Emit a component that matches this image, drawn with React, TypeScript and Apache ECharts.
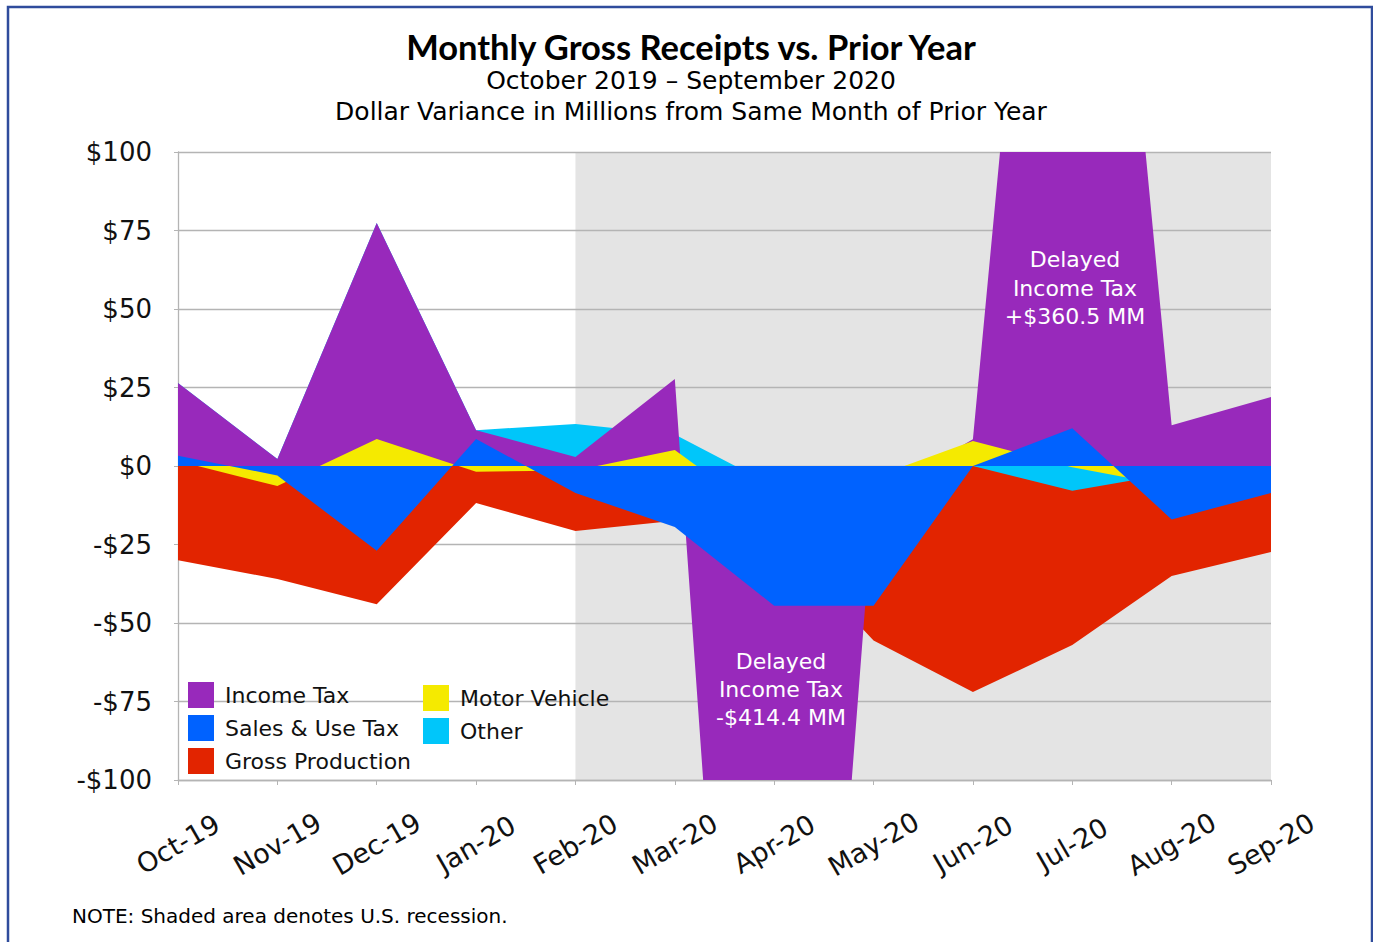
import React, { useEffect, useRef } from "react";
import * as echarts from "echarts";

// Categories (months)
const months = ["Oct-19", "Nov-19", "Dec-19", "Jan-20", "Feb-20", "Mar-20", "Apr-20", "May-20", "Jun-20", "Jul-20", "Aug-20", "Sep-20"];

// Edge of each coloured band as plotted ($ millions variance); each band is filled from $0
const salesUseTax = [3.3, -3.0, -27.0, 8.6, -8.6, -19.4, -44.5, -44.5, 0.0, 12.0, -17.0, -8.6];
const motorVehicle = [1.6, -6.4, 8.6, -1.8, -1.4, 5.1, -18.0, -3.6, 8.0, -0.4, -6.4, -5.0];
const incomeTax = [26.4, 2.2, 77.4, 11.4, 2.9, 27.7, -420.0, -10.0, 8.5, 344.0, 13.0, 22.0];
const other = [26.4, 2.2, 77.4, 11.4, 13.4, 10.0, -6.5, -10.0, 0.0, -7.9, -2.4, -3.0];
const grossProduction = [-30.0, -36.0, -44.0, -11.8, -20.7, -17.4, -22.0, -55.6, -72.0, -57.0, -35.0, -27.4];

// Recession shading span
const recessionStart = "Feb-20";
const recessionEnd = "Sep-20";

// Y axis ticks
const yMin = -100;
const yMax = 100;
const yStep = 25;

const FONT = "'DejaVu Sans', sans-serif";

export default function App() {
  const ref = useRef<HTMLDivElement>(null);

  useEffect(() => {
    if (!ref.current) return;
    const chart = echarts.init(ref.current, undefined, { renderer: "svg" });

    const band = (name: string, data: number[], color: string, z: number) => ({
      name,
      type: "line",
      data,
      z,
      symbol: "none",
      showSymbol: false,
      silent: true,
      clip: true,
      lineStyle: { width: 0, opacity: 0 },
      itemStyle: { color },
      areaStyle: { color, opacity: 1, origin: "auto" },
    });

    const legendCommon = {
      orient: "vertical",
      icon: "rect",
      itemWidth: 26,
      itemHeight: 26,
      itemGap: 7,
      padding: 0,
      selectedMode: false,
      textStyle: { fontSize: 22, color: "#111", fontFamily: FONT, padding: [0, 0, 0, 6] },
    };

    const txt = (text: string, x: number, y: number, size: number, opts: any = {}) => ({
      type: "text",
      x,
      y,
      z: 100,
      silent: true,
      style: {
        text,
        fill: opts.fill || "#000",
        font: `${opts.weight || "normal"} ${size}px ${opts.family || FONT}`,
        textAlign: opts.align || "center",
        align: opts.align || "center",
        textVerticalAlign: "middle",
        verticalAlign: "middle",
      },
    });

    chart.setOption({
      animation: false,
      backgroundColor: "#ffffff",
      grid: { left: 178, right: 102, top: 152, bottom: 162, containLabel: false },
      xAxis: {
        type: "category",
        data: months,
        boundaryGap: false,
        z: 2,
        axisLine: { onZero: false, lineStyle: { color: "#b4b4b4", width: 1.3 } },
        axisTick: { show: true, length: 5, lineStyle: { color: "#b4b4b4" } },
        splitLine: { show: false },
        axisLabel: {
          interval: 0,
          rotate: 30,
          align: "center",
          verticalAlign: "middle",
          margin: 64,
          fontSize: 27,
          color: "#111",
          fontFamily: FONT,
        },
      },
      yAxis: {
        type: "value",
        min: yMin,
        max: yMax,
        interval: yStep,
        z: 2,
        axisLine: { show: true, lineStyle: { color: "#b4b4b4", width: 1.3 } },
        axisTick: { show: true, length: 4, lineStyle: { color: "#b4b4b4" } },
        splitLine: { show: true, lineStyle: { color: "#b4b4b4", width: 1.3 } },
        axisLabel: {
          fontSize: 26,
          color: "#111",
          fontFamily: FONT,
          margin: 26,
          formatter: (v: number) => (v < 0 ? `-$${-v}` : `$${v}`),
        },
      },
      legend: [
        { ...legendCommon, data: ["Income Tax", "Sales & Use Tax", "Gross Production"], left: 188, top: 682 },
        { ...legendCommon, data: ["Motor Vehicle", "Other"], left: 423, top: 685 },
      ],
      series: [
        {
          name: "recession",
          type: "line",
          data: [],
          z: 1,
          silent: true,
          markArea: {
            silent: true,
            itemStyle: { color: "#e4e4e4" },
            data: [[{ xAxis: recessionStart }, { xAxis: recessionEnd }]],
          },
        },
        band("Gross Production", grossProduction, "#e22400", 3),
        band("Other", other, "#00c6fa", 4),
        band("Income Tax", incomeTax, "#9829bb", 5),
        band("Motor Vehicle", motorVehicle, "#f5ea00", 6),
        band("Sales & Use Tax", salesUseTax, "#0062ff", 7),
      ],
      graphic: [
        {
          type: "rect",
          z: 100,
          silent: true,
          shape: { x: 8, y: 7, width: 1364, height: 960 },
          style: { fill: "none", stroke: "#2f4c9c", lineWidth: 2.5 },
        },
        txt("Monthly Gross Receipts vs. Prior Year", 691, 46, 34.5, { weight: "bold", family: "Lato, sans-serif" }),
        txt("October 2019 \u2013 September 2020", 691, 80, 25),
        txt("Dollar Variance in Millions from Same Month of Prior Year", 691, 111, 25),
        txt("Delayed", 1075, 259, 22, { fill: "#ffffff" }),
        txt("Income Tax", 1075, 288, 22, { fill: "#ffffff" }),
        txt("+$360.5 MM", 1075, 316, 22, { fill: "#ffffff" }),
        txt("Delayed", 781, 661, 22, { fill: "#ffffff" }),
        txt("Income Tax", 781, 689, 22, { fill: "#ffffff" }),
        txt("-$414.4 MM", 781, 717, 22, { fill: "#ffffff" }),
        txt("NOTE: Shaded area denotes U.S. recession.", 72, 916, 20, { align: "left" }),
      ],
    });

    return () => chart.dispose();
  }, []);

  return (
    <div
      ref={ref}
      style={{ position: "fixed", left: 0, top: 0, width: 1373, height: 942, background: "#fff" }}
    />
  );
}
